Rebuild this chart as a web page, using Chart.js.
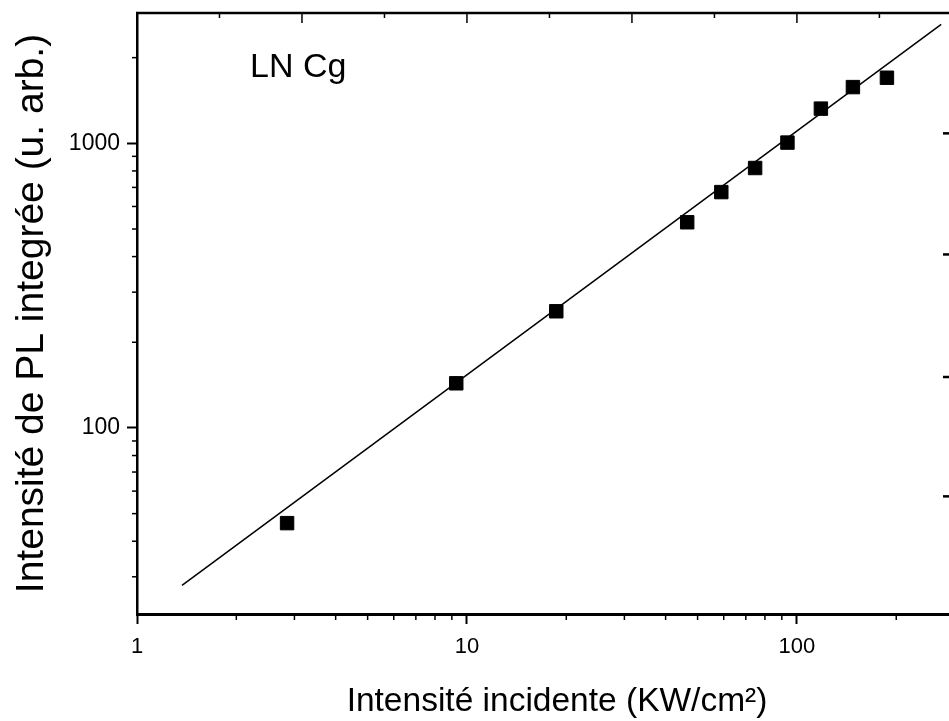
<!DOCTYPE html>
<html>
<head>
<meta charset="utf-8">
<script src="https://cdn.jsdelivr.net/npm/chart.js@4"></script>
<style>
  html, body { margin: 0; padding: 0; background: #fff; }
  canvas { display: block; }
</style>
</head>
<body>
<canvas id="plChart" width="949" height="721"></canvas>
<script>
const intensityIn = [2.85, 9.28, 18.65, 46.5, 59, 74.7, 93.6, 118.2, 147.8, 187.4];
const plIntegrated = [46.3, 143.5, 257, 528, 674, 819, 1006, 1324, 1576, 1700];

// Fit line (straight on log-log), end points
const fitX = [1.369, 273.7];
const fitY = [27.97, 2616];

// Axis ranges and labelled ticks
const xRange = [1, 289];
const yRange = [22.2, 2870];
const xLabelTicks = [1, 10, 100];
const yLabelTicks = [100, 1000];
const rightAxisTicks = [1084, 407, 151, 57.5];
const sampleLabel = 'LN Cg';
const xTitle = 'Intensité incidente (KW/cm²)';
const yTitle = 'Intensité de PL integrée (u. arb.)';

const FONT = '"Liberation Sans", Arial, Helvetica, sans-serif';

// 2..9 x 10^n between min and max
function minorTicks(min, max) {
  const out = [];
  for (let e = Math.floor(Math.log10(min)); e <= Math.ceil(Math.log10(max)); e++) {
    for (let d = 2; d <= 9; d++) {
      const v = d * Math.pow(10, e);
      if (v >= min && v <= max) out.push(v);
    }
  }
  return out;
}

// minor ticks, top frame with inward ticks, right-side marks, texts
const frameTicks = {
  id: 'frameTicks',
  afterDraw(chart) {
    const { ctx, chartArea: a, scales: { x, y } } = chart;
    const line = (x1, y1, x2, y2) => { ctx.beginPath(); ctx.moveTo(x1, y1); ctx.lineTo(x2, y2); ctx.stroke(); };
    ctx.save();
    ctx.strokeStyle = '#000';
    ctx.lineWidth = 2.5;
    line(a.left - 1, a.top, a.right, a.top);

    ctx.lineWidth = 1.5;
    minorTicks(xRange[0], xRange[1]).forEach(v => {
      const px = x.getPixelForValue(v);
      line(px, a.bottom, px, a.bottom + 6);
    });
    minorTicks(yRange[0], yRange[1]).forEach(v => {
      const py = y.getPixelForValue(v);
      line(a.left - 5, py, a.left, py);
    });
    for (let k = 1; Math.pow(10, k / 4) <= xRange[1]; k++) {
      const px = x.getPixelForValue(Math.pow(10, k / 4));
      line(px, a.top, px, a.top + (k % 2 === 0 ? 10 : 5));
    }
    ctx.lineWidth = 2.5;
    rightAxisTicks.forEach(v => {
      const py = y.getPixelForValue(v);
      line(a.right - 6, py, a.right, py);
    });

    ctx.fillStyle = '#000';
    ctx.textBaseline = 'alphabetic';
    ctx.font = '34px ' + FONT;
    ctx.textAlign = 'left';
    ctx.fillText(sampleLabel, a.left + 113, a.top + 64);

    ctx.font = '33.5px ' + FONT;
    ctx.textAlign = 'center';
    ctx.fillText(xTitle, a.left + 420, 711);
    ctx.restore();
  }
};

const ctx = document.getElementById('plChart').getContext('2d');
new Chart(ctx, {
  type: 'scatter',
  data: {
    datasets: [
      {
        type: 'line',
        data: fitX.map((v, i) => ({ x: v, y: fitY[i] })),
        borderColor: '#000',
        borderWidth: 1.5,
        pointRadius: 0,
        fill: false
      },
      {
        data: intensityIn.map((v, i) => ({ x: v, y: plIntegrated[i] })),
        pointStyle: 'rect',
        pointRadius: 9.5,
        backgroundColor: '#000',
        borderColor: '#000',
        borderWidth: 1
      }
    ]
  },
  plugins: [frameTicks],
  options: {
    responsive: false,
    animation: false,
    layout: { autoPadding: false, padding: { top: 13, right: 0, bottom: 0, left: 0 } },
    plugins: { legend: { display: false }, tooltip: { enabled: false } },
    scales: {
      x: {
        type: 'logarithmic',
        min: xRange[0],
        max: xRange[1],
        afterBuildTicks: s => { s.ticks = xLabelTicks.map(v => ({ value: v })); },
        afterFit: s => { s.height = 107; s.paddingLeft = 0; s.paddingRight = 0; },
        ticks: { autoSkip: false, maxRotation: 0, padding: 10, color: '#000', font: { family: FONT, size: 22 }, callback: v => String(v) },
        grid: { drawOnChartArea: false, tickLength: 10, tickWidth: 2, tickColor: '#000' },
        border: { color: '#000', width: 3 }
      },
      y: {
        type: 'logarithmic',
        min: yRange[0],
        max: yRange[1],
        afterBuildTicks: s => { s.ticks = yLabelTicks.map(v => ({ value: v })); },
        afterFit: s => { s.width = 137; s.paddingTop = 0; s.paddingBottom = 0; },
        ticks: { autoSkip: false, padding: 7, color: '#000', font: { family: FONT, size: 23 }, callback: v => String(v) },
        grid: { drawOnChartArea: false, tickLength: 10, tickWidth: 2, tickColor: '#000' },
        border: { color: '#000', width: 2.5 },
        title: { display: true, text: yTitle, color: '#000', font: { family: FONT, size: 39 }, padding: { top: 9, bottom: 0 } }
      }
    }
  }
});
</script>
</body>
</html>
